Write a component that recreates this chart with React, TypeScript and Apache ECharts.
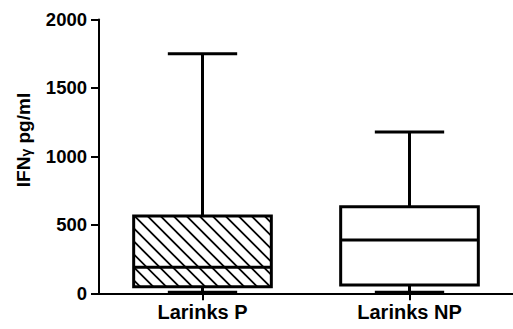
import React, { useEffect, useRef } from "react";
import * as echarts from "echarts";

const categories = ["Larinks P", "Larinks NP"];
const whiskerLow = [8, 8];
const q1 = [48, 61];
const median = [190, 389];
const q3 = [565, 633];
const whiskerHigh = [1750, 1178];
const hatched = [1, 0];
const yMin = 0;
const yMax = 2000;
const yInterval = 500;

const FONT = "'Liberation Sans', Arial, Helvetica, sans-serif";

export default function App() {
  const ref = useRef<HTMLDivElement>(null);
  useEffect(() => {
    if (!ref.current) return;
    const chart = echarts.init(ref.current, undefined, { renderer: "svg" });
    const data = categories.map((_, i) => [
      i,
      whiskerLow[i],
      q1[i],
      median[i],
      q3[i],
      whiskerHigh[i],
      hatched[i],
    ]);
    const renderItem = (params: any, api: any) => {
      const idx = api.value(0);
      const cx = api.coord([idx, 0])[0];
      const yv = (k: number) => api.coord([idx, api.value(k)])[1];
      const yLo = yv(1);
      const yQ1 = yv(2);
      const yMed = yv(3);
      const yQ3 = yv(4);
      const yHi = yv(5);
      const band = api.size([1, 0])[0];
      const bw = band * 0.665;
      const cw = band * 0.335;
      const x1 = cx - bw / 2;
      const x2 = cx + bw / 2;
      const lineStyle = { stroke: "#000", lineWidth: 3, fill: "none" };
      const children: any[] = [];
      children.push({
        type: "rect",
        shape: { x: x1, y: yQ3, width: bw, height: yQ1 - yQ3 },
        style: { fill: "#fff", stroke: "none" },
      });
      if (api.value(6)) {
        const step = 13;
        const top = yQ3;
        const bot = yQ1;
        const cStart = x1 - bot;
        const cEnd = x2 - top;
        for (let c = cStart + step / 2; c < cEnd; c += step) {
          const xa = Math.max(x1, c + top);
          const xb = Math.min(x2, c + bot);
          if (xb <= xa) continue;
          children.push({
            type: "line",
            shape: { x1: xa, y1: xa - c, x2: xb, y2: xb - c },
            style: { stroke: "#000", lineWidth: 1.8 },
          });
        }
      }
      children.push({
        type: "rect",
        shape: { x: x1, y: yQ3, width: bw, height: yQ1 - yQ3 },
        style: lineStyle,
      });
      children.push({
        type: "line",
        shape: { x1: x1, y1: yMed, x2: x2, y2: yMed },
        style: lineStyle,
      });
      children.push({
        type: "line",
        shape: { x1: cx, y1: yQ3, x2: cx, y2: yHi },
        style: lineStyle,
      });
      children.push({
        type: "line",
        shape: { x1: cx - cw / 2, y1: yHi, x2: cx + cw / 2, y2: yHi },
        style: lineStyle,
      });
      children.push({
        type: "line",
        shape: { x1: cx, y1: yQ1, x2: cx, y2: yLo },
        style: lineStyle,
      });
      children.push({
        type: "line",
        shape: { x1: cx - cw / 2, y1: yLo, x2: cx + cw / 2, y2: yLo },
        style: lineStyle,
      });
      return { type: "group", children };
    };
    chart.setOption({
      animation: false,
      grid: { left: 99, top: 19.5, width: 416, bottom: 35.7 },
      xAxis: {
        type: "category",
        data: categories,
        boundaryGap: true,
        axisLine: { show: true, lineStyle: { color: "#000", width: 2 } },
        axisTick: {
          show: true,
          alignWithLabel: true,
          length: 7,
          lineStyle: { color: "#000", width: 2 },
        },
        axisLabel: {
          color: "#000",
          fontWeight: "bold",
          fontSize: 20,
          fontFamily: FONT,
          margin: 9,
        },
        splitLine: { show: false },
      },
      yAxis: {
        type: "value",
        min: yMin,
        max: yMax,
        interval: yInterval,
        axisLine: { show: true, lineStyle: { color: "#000", width: 2 } },
        axisTick: { show: true, length: 8, lineStyle: { color: "#000", width: 2 } },
        axisLabel: {
          color: "#000",
          fontWeight: "bold",
          fontSize: 18.5,
          fontFamily: FONT,
          margin: 12,
          formatter: (v: number) => String(v),
        },
        splitLine: { show: false },
      },
      graphic: [
        {
          type: "text",
          x: 23,
          y: 140,
          rotation: Math.PI / 2,
          style: {
            text: "{a|IFN}{b|γ}{a| pg/ml}",
            fontSize: 19,
            fontWeight: "bold",
            fontFamily: FONT,
            fill: "#000",
            align: "center",
            verticalAlign: "middle",
            rich: {
              a: { fontSize: 19, fontWeight: "bold", fontFamily: FONT, fill: "#000" },
              b: {
                fontSize: 14,
                fontWeight: "bold",
                fontFamily: FONT,
                fill: "#000",
                padding: [6, 0, 0, 0],
              },
            },
          },
        },
      ],
      series: [
        {
          type: "custom",
          renderItem,
          data,
          encode: { x: 0, y: [1, 2, 3, 4, 5] },
          clip: false,
        },
      ],
    });
    return () => chart.dispose();
  }, []);
  return (
    <div
      ref={ref}
      style={{ position: "fixed", left: 0, top: 0, width: 513, height: 329, background: "#fff" }}
    />
  );
}
